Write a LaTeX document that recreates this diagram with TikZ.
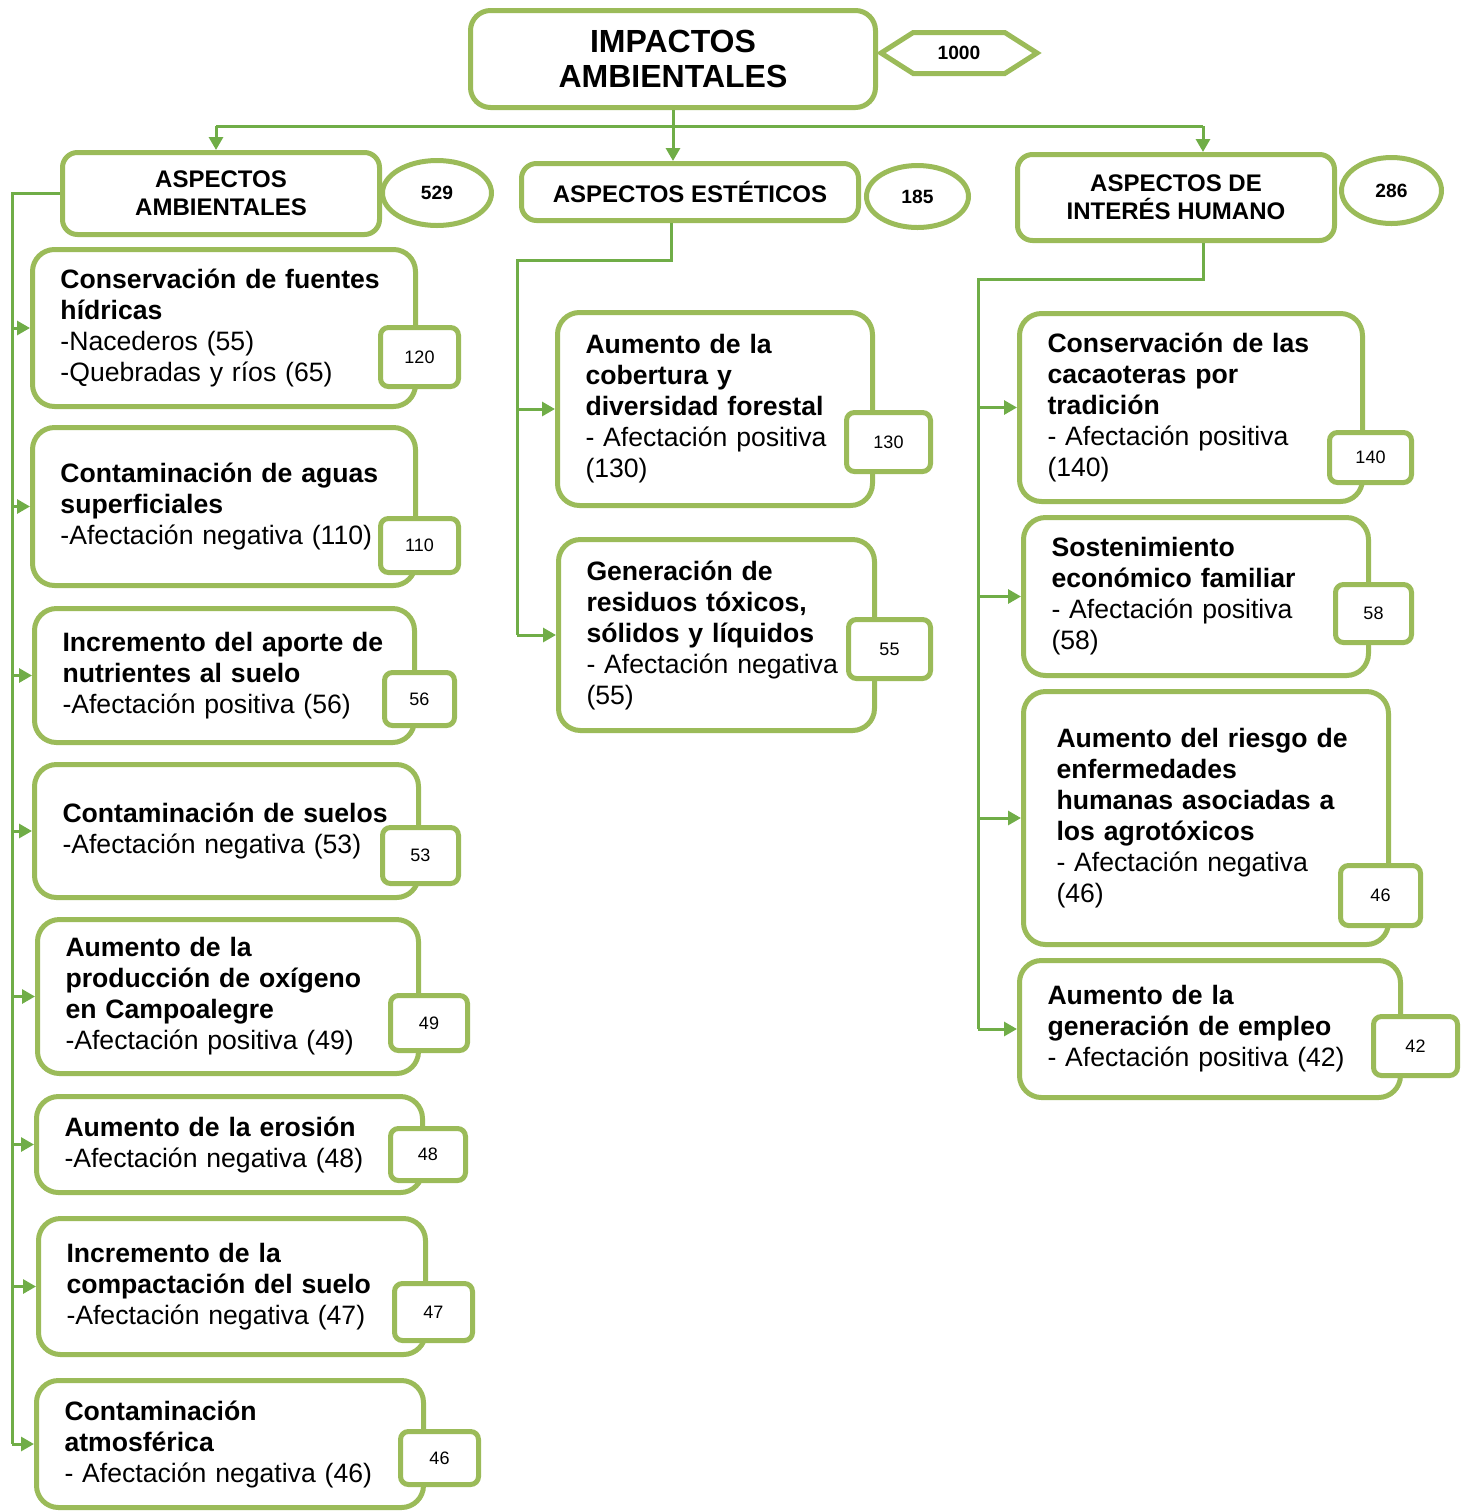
\documentclass[tikz,border=0pt]{standalone}
\usepackage{fontspec}
\setmainfont{Liberation Sans}
\usetikzlibrary{arrows.meta,shapes.geometric,shapes.symbols}
\definecolor{verdecaja}{HTML}{9BBB59}
\definecolor{verdelinea}{HTML}{70AD47}
\begin{document}
\begin{tikzpicture}[
x=0.5pt, y=-0.5pt,
impacto/.style={rectangle, draw=verdecaja, line width=2.5pt, rounded corners=11pt, fill=white, align=left, inner xsep=14pt, inner ysep=0pt, font=\fontsize{13.3}{15.5}\selectfont},
aspecto/.style={rectangle, draw=verdecaja, line width=2.5pt, rounded corners=7.5pt, fill=white, align=center, inner sep=0pt, font=\fontsize{12}{14}\selectfont\bfseries},
valor/.style={rectangle, draw=verdecaja, line width=2.5pt, rounded corners=4pt, fill=white, inner sep=0pt, font=\fontsize{9}{11}\selectfont},
total/.style={ellipse, draw=verdecaja, line width=2.5pt, fill=white, inner sep=0pt, font=\fontsize{9.6}{11}\selectfont\bfseries},
linea/.style={draw=verdelinea, line width=1.5pt},
flecha/.style={linea, -{Triangle[length=6.5pt,width=7pt]}},
]
\useasboundingbox (0,0) rectangle (1462,1512);

% nivel superior
\node[aspecto, rounded corners=10pt, minimum width=202.5pt, minimum height=48.5pt, font=\fontsize{16}{17.5}\selectfont\bfseries] (impactos) at (673,59) {IMPACTOS\\AMBIENTALES};
\node[signal, signal to=west and east, signal pointer angle=65, draw=verdecaja, line width=2.5pt, fill=white, minimum width=78pt, minimum height=20.5pt, inner sep=0pt, font=\fontsize{9.6}{11}\selectfont\bfseries] (total) at (959,53) {1000};

% aspectos
\node[aspecto, minimum width=158.5pt, minimum height=41pt] (ambientales) at (221,193.5) {ASPECTOS\\AMBIENTALES};
\node[aspecto, minimum width=168.5pt, minimum height=28.5pt] (esteticos) at (690,192) {ASPECTOS ESTÉTICOS};
\node[aspecto, minimum width=158.5pt, minimum height=43pt] (humano) at (1176,197.5) {ASPECTOS DE\\INTERÉS HUMANO};
\node[total, minimum width=54.5pt, minimum height=32.5pt] (t1) at (437,193) {529};
\node[total, minimum width=51pt, minimum height=31pt] (t2) at (917.5,196.5) {185};
\node[total, minimum width=50pt, minimum height=33pt] (t3) at (1391.5,190.5) {286};

% aspectos ambientales
\node[impacto, text width=163.5pt, minimum height=78.5pt] (a1) at (224,328) {{\bfseries Conservación de fuentes\\hídricas}\\-Nacederos (55)\\-Quebradas y ríos (65)};
\node[impacto, text width=163.5pt, minimum height=79pt] (a2) at (224,506.5) {{\bfseries Contaminación de aguas\\superficiales}\\-Afectación negativa (110)};
\node[impacto, text width=162pt, minimum height=67pt] (a3) at (224.5,675.5) {{\bfseries Incremento del aporte de\\nutrientes al suelo}\\-Afectación positiva (56)};
\node[impacto, text width=164pt, minimum height=66.5pt] (a4) at (226.5,831) {{\bfseries Contaminación de suelos}\\-Afectación negativa (53)};
\node[impacto, text width=162.5pt, minimum height=77pt] (a5) at (228,996.5) {{\bfseries Aumento de la\\producción de oxígeno\\en Campoalegre}\\-Afectación positiva (49)};
\node[impacto, text width=165pt, minimum height=48pt] (a6) at (229.5,1144.5) {{\bfseries Aumento de la erosión}\\-Afectación negativa (48)};
\node[impacto, text width=165.5pt, minimum height=68pt] (a7) at (232,1286.5) {{\bfseries Incremento de la\\compactación del suelo}\\-Afectación negativa (47)};
\node[impacto, text width=165.5pt, minimum height=63.5pt] (a8) at (230,1444) {{\bfseries Contaminación\\atmosférica}\\- Afectación negativa (46)};
\node[valor, minimum width=39pt, minimum height=29.5pt] (va1) at (419.5,357) {120};
\node[valor, minimum width=39pt, minimum height=27pt] (va2) at (419.5,545.5) {110};
\node[valor, minimum width=35pt, minimum height=26.5pt] (va3) at (419.5,699) {56};
\node[valor, minimum width=38pt, minimum height=28pt] (va4) at (420.5,855.5) {53};
\node[valor, minimum width=38.5pt, minimum height=27.5pt] (va5) at (429,1023) {49};
\node[valor, minimum width=37.5pt, minimum height=26pt] (va6) at (428,1154.5) {48};
\node[valor, minimum width=39pt, minimum height=28.5pt] (va7) at (433.5,1312) {47};
\node[valor, minimum width=39pt, minimum height=26.5pt] (va8) at (439.5,1458) {46};

% aspectos esteticos
\node[impacto, text width=129.5pt, minimum height=96.5pt] (b1) at (715,409) {{\bfseries Aumento de la\\cobertura y\\diversidad forestal}\\- Afectación positiva\\(130)};
\node[impacto, text width=130pt, minimum height=95.5pt] (b2) at (716.5,635) {{\bfseries Generación de\\residuos tóxicos,\\sólidos y líquidos}\\- Afectación negativa\\(55)};
\node[valor, minimum width=42pt, minimum height=29.5pt] (vb1) at (888.5,442) {130};
\node[valor, minimum width=41pt, minimum height=29.5pt] (vb2) at (889.5,649) {55};

% aspectos de interes humano
\node[impacto, text width=143.5pt, minimum height=94pt] (c1) at (1191,407.5) {{\bfseries Conservación de las\\cacaoteras por\\tradición}\\- Afectación positiva\\(140)};
\node[impacto, text width=144.5pt, minimum height=79pt] (c2) at (1196,596.5) {{\bfseries Sostenimiento\\económico familiar}\\- Afectación positiva\\(58)};
\node[impacto, inner xsep=16.5pt, text width=149.5pt, minimum height=126.5pt] (c3) at (1206,818) {{\bfseries Aumento del riesgo de\\enfermedades\\humanas asociadas a\\los agrotóxicos}\\- Afectación negativa\\(46)};
\node[impacto, text width=162.5pt, minimum height=68.5pt] (c4) at (1210,1029) {{\bfseries Aumento de la\\generación de empleo}\\- Afectación positiva (42)};
\node[valor, minimum width=41pt, minimum height=25pt] (vc1) at (1370.5,457.5) {140};
\node[valor, minimum width=38pt, minimum height=29pt] (vc2) at (1373.5,613.5) {58};
\node[valor, minimum width=40pt, minimum height=30pt] (vc3) at (1380.5,895.5) {46};
\node[valor, minimum width=42pt, minimum height=29.5pt] (vc4) at (1415.5,1046) {42};

% conectores
\coordinate (busL) at (216,126);
\coordinate (busR) at (1203,126);
\draw[linea] (busL) -- (busR);
\draw[flecha] (impactos.south) -- (impactos.south |- esteticos.north);
\draw[flecha] (busL) -- (busL |- ambientales.north);
\draw[flecha] (busR) -- (busR |- humano.north);

\coordinate (troncoA) at (12,0);
\draw[linea] (ambientales.west) -- (ambientales.west -| troncoA) -- (troncoA |- a8.west);
\foreach \i in {1,...,8}
  \draw[flecha] (troncoA |- a\i.west) -- (a\i.west);

\coordinate (troncoB) at (517,260);
\draw[linea] ([xshift=-9.5pt]esteticos.south) -- ([xshift=-9.5pt]esteticos.south |- troncoB) -- (troncoB) -- (troncoB |- b2.west);
\foreach \i in {1,2}
  \draw[flecha] (troncoB |- b\i.west) -- (b\i.west);

\coordinate (troncoC) at (978,279);
\draw[linea] ([xshift=13.5pt]humano.south) -- ([xshift=13.5pt]humano.south |- troncoC) -- (troncoC) -- (troncoC |- c4.west);
\foreach \i in {1,...,4}
  \draw[flecha] (troncoC |- c\i.west) -- (c\i.west);
\end{tikzpicture}
\end{document}
